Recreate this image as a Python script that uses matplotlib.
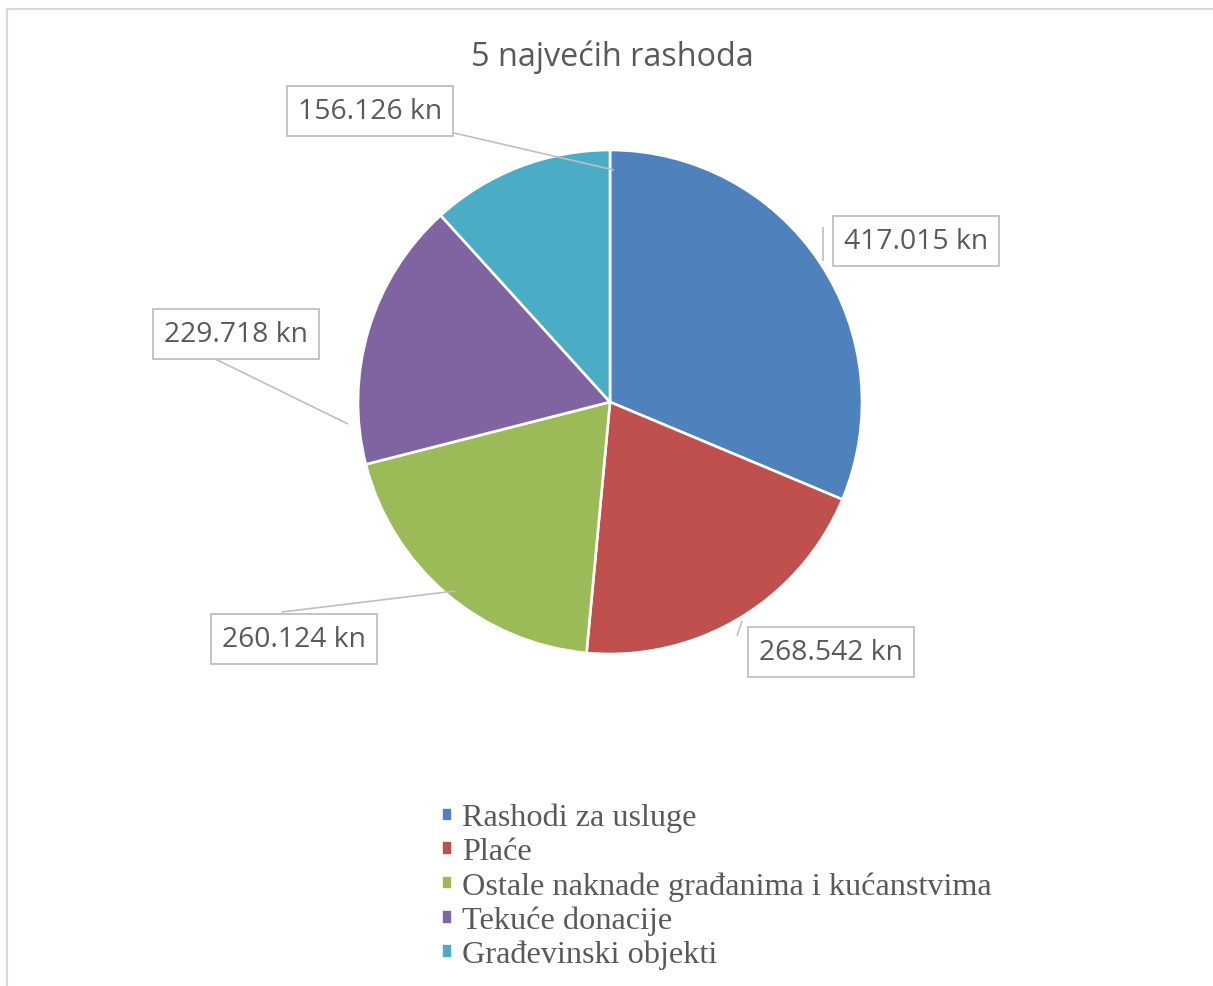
import matplotlib.pyplot as plt
from matplotlib.lines import Line2D

categories = ['Rashodi za usluge', 'Plaće', 'Ostale naknade građanima i kućanstvima',
              'Tekuće donacije', 'Građevinski objekti']
values = [417015, 268542, 260124, 229718, 156126]
colors = ['#4F81BD', '#C0504D', '#9BBB59', '#8064A2', '#4BACC6']


def fmt_kn(v):
    return f'{v:,}'.replace(',', '.') + ' kn'


W, H = 1213, 987
fig = plt.figure(figsize=(W / 100, H / 100), dpi=100)
ax = fig.add_axes([0, 0, 1, 1])
ax.set_xlim(0, W)
ax.set_ylim(0, H)
ax.set_aspect('equal')
ax.axis('off')

# chart frame (top and left edges visible only)
fig.add_artist(Line2D([7 / W, 7 / W], [0, 1 - 10 / H], color='#d9d9d9', lw=1.5))
fig.add_artist(Line2D([7 / W, 1], [1 - 10 / H, 1 - 10 / H], color='#d9d9d9', lw=1.5))

wedges, _ = ax.pie(values, colors=colors, startangle=90, counterclock=False,
                   center=(610, H - 403), radius=252,
                   wedgeprops=dict(edgecolor='white', linewidth=1.9))
ax.set_xlim(0, W)
ax.set_ylim(0, H)

ax.text(612, H - 66, '5 najvećih rashoda', ha='center', va='baseline',
        fontsize=23.3, color='#595959', family='Open Sans')

# data label positions (pixel layout) and leader lines
label_pos = [(916, 242), (831, 653), (294, 640), (236, 335), (370, 112)]
leaders = [((823, 228), (823, 262)), ((742, 622), (737, 637)),
           ((282, 613), (455, 592)), ((205, 355), (348, 425)),
           ((454, 134), (614, 171))]

for v, (px, py), (a, b) in zip(values, label_pos, leaders):
    ax.plot([a[0], b[0]], [H - a[1], H - b[1]], color='#bfbfbf', lw=1.2,
            solid_capstyle='butt')
    ax.text(px, H - py, fmt_kn(v), ha='center', va='center', fontsize=20.3,
            color='#595959', family='Open Sans',
            bbox=dict(boxstyle='square,pad=0.38', facecolor='white',
                      edgecolor='#bfbfbf', linewidth=1.3))

leg = fig.legend(wedges, categories, loc='upper left',
                 bbox_to_anchor=(441 / W, 1 - 804 / H), frameon=False,
                 prop=dict(family='Liberation Serif', size=23.2),
                 handlelength=0.33, handleheight=0.33, handletextpad=0.32,
                 labelspacing=0.15, borderpad=0, borderaxespad=0)
for t in leg.get_texts():
    t.set_color('#595959')

fig.savefig('out.png', dpi=100)
